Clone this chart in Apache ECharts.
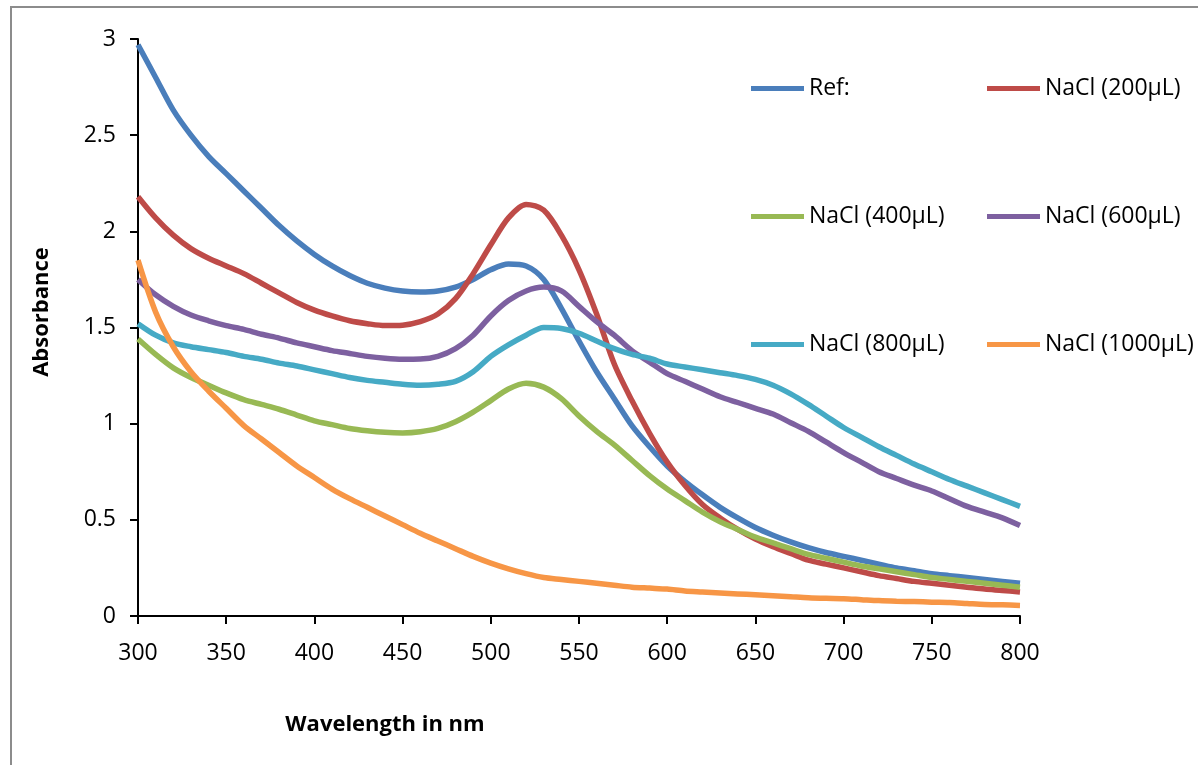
<!DOCTYPE html>
<html>
<head>
<meta charset="utf-8">
<title>Absorbance</title>
<script src="https://cdn.jsdelivr.net/npm/echarts@6/dist/echarts.min.js"></script>
<style>
    html, body { margin: 0; padding: 0; background: #fff; }
    #chart { width: 1198px; height: 765px; }
</style>
</head>
<body>
<div id="chart"></div>
<script>
// wavelengths (nm) shared by every curve, 10 nm steps
var wavelengths = [300, 310, 320, 330, 340, 350, 360, 370, 380, 390,
    400, 410, 420, 430, 440, 450, 460, 470, 480, 490,
    500, 510, 520, 530, 540, 550, 560, 570, 580, 590,
    600, 610, 620, 630, 640, 650, 660, 670, 680, 690,
    700, 710, 720, 730, 740, 750, 760, 770, 780, 790, 800];

var seriesNames = ['Ref:', 'NaCl (200µL)', 'NaCl (400µL)', 'NaCl (600µL)', 'NaCl (800µL)', 'NaCl (1000µL)'];

var refValues = [2.97, 2.80, 2.63, 2.50, 2.39, 2.30, 2.21, 2.12, 2.03, 1.95,
    1.88, 1.82, 1.77, 1.73, 1.705, 1.69, 1.685, 1.69, 1.71, 1.75,
    1.80, 1.83, 1.82, 1.75, 1.60, 1.43, 1.27, 1.13, 0.99, 0.88,
    0.78, 0.70, 0.63, 0.565, 0.51, 0.46, 0.42, 0.385, 0.355, 0.33,
    0.31, 0.29, 0.27, 0.25, 0.235, 0.22, 0.21, 0.20, 0.19, 0.18, 0.17];
var nacl200 = [2.18, 2.07, 1.98, 1.91, 1.86, 1.82, 1.78, 1.73, 1.68, 1.63,
    1.59, 1.56, 1.535, 1.52, 1.51, 1.512, 1.53, 1.57, 1.65, 1.78,
    1.93, 2.07, 2.14, 2.11, 1.98, 1.80, 1.57, 1.31, 1.12, 0.95,
    0.80, 0.68, 0.58, 0.51, 0.45, 0.40, 0.36, 0.325, 0.29, 0.27,
    0.25, 0.23, 0.21, 0.195, 0.18, 0.17, 0.16, 0.15, 0.14, 0.133, 0.125];
var nacl400 = [1.44, 1.36, 1.29, 1.24, 1.20, 1.16, 1.125, 1.10, 1.075, 1.045,
    1.015, 0.995, 0.975, 0.963, 0.955, 0.952, 0.958, 0.975, 1.01, 1.06,
    1.12, 1.18, 1.21, 1.19, 1.13, 1.04, 0.96, 0.89, 0.81, 0.73,
    0.66, 0.60, 0.54, 0.49, 0.45, 0.41, 0.38, 0.35, 0.32, 0.30,
    0.28, 0.26, 0.245, 0.23, 0.215, 0.20, 0.19, 0.18, 0.17, 0.16, 0.15];
var nacl600 = [1.75, 1.67, 1.61, 1.565, 1.535, 1.51, 1.49, 1.465, 1.445, 1.42,
    1.40, 1.38, 1.365, 1.35, 1.34, 1.335, 1.336, 1.35, 1.39, 1.46,
    1.56, 1.64, 1.69, 1.71, 1.69, 1.61, 1.53, 1.46, 1.38, 1.32,
    1.26, 1.22, 1.18, 1.14, 1.11, 1.08, 1.05, 1.005, 0.96, 0.905,
    0.85, 0.80, 0.75, 0.715, 0.68, 0.65, 0.61, 0.57, 0.54, 0.51, 0.47];
var nacl800 = [1.52, 1.46, 1.42, 1.40, 1.385, 1.37, 1.35, 1.335, 1.315, 1.30,
    1.28, 1.26, 1.24, 1.225, 1.215, 1.205, 1.20, 1.205, 1.22, 1.27,
    1.35, 1.41, 1.46, 1.50, 1.495, 1.47, 1.43, 1.39, 1.36, 1.34,
    1.31, 1.295, 1.28, 1.265, 1.25, 1.23, 1.20, 1.155, 1.10, 1.04,
    0.98, 0.93, 0.88, 0.835, 0.79, 0.75, 0.71, 0.675, 0.64, 0.605, 0.57];
var nacl1000 = [1.85, 1.58, 1.40, 1.27, 1.17, 1.08, 0.99, 0.92, 0.85, 0.78,
    0.72, 0.66, 0.61, 0.565, 0.52, 0.475, 0.43, 0.39, 0.35, 0.31,
    0.275, 0.245, 0.22, 0.20, 0.19, 0.18, 0.17, 0.16, 0.15, 0.145,
    0.14, 0.13, 0.125, 0.12, 0.115, 0.11, 0.105, 0.10, 0.095, 0.092,
    0.09, 0.085, 0.08, 0.077, 0.075, 0.072, 0.07, 0.065, 0.06, 0.058, 0.055];

var colors = ['#4a7ebb', '#be4b48', '#98b954', '#7d60a0', '#46aac5', '#f79646'];

var myChart = echarts.init(document.getElementById('chart'));

function make_serie(name, values, color) {
    // 把波长和吸光度合成 [x, y]
    var data = [];
    for (let i = 0; i < wavelengths.length; i++) {
        data.push([wavelengths[i], values[i]]);
    }
    return {
        name: name,
        type: 'line',
        data: data,
        smooth: 0.3,
        showSymbol: false,
        symbol: 'none',
        lineStyle: { width: 5.5, color: color },
        itemStyle: { color: color }
    };
}

var allValues = [refValues, nacl200, nacl400, nacl600, nacl800, nacl1000];
var series = [];
for (let i = 0; i < seriesNames.length; i++) {
    series.push(make_serie(seriesNames[i], allValues[i], colors[i]));
}

var fontName = 'Open Sans';
var legendText = { fontFamily: fontName, fontSize: 23, color: '#000', lineHeight: 23 };

var option = {
    animation: false,
    backgroundColor: '#fff',
    grid: { left: 138, right: 178, top: 39, bottom: 149 },
    legend: [
        {
            orient: 'vertical', left: 746, top: 72, itemGap: 105,
            itemWidth: 53, itemHeight: 5, icon: 'rect',
            textStyle: legendText,
            data: ['Ref:', 'NaCl (400µL)', 'NaCl (800µL)']
        },
        {
            orient: 'vertical', left: 982, top: 72, itemGap: 105,
            itemWidth: 53, itemHeight: 5, icon: 'rect',
            textStyle: legendText,
            data: ['NaCl (200µL)', 'NaCl (600µL)', 'NaCl (1000µL)']
        }
    ],
    xAxis: {
        type: 'value', min: 300, max: 800, interval: 50,
        axisLine: { lineStyle: { color: '#000', width: 2 } },
        axisTick: { inside: false, length: 8, lineStyle: { color: '#000', width: 2 } },
        axisLabel: { color: '#000', fontFamily: fontName, fontSize: 23, margin: 26 },
        splitLine: { show: false }
    },
    yAxis: {
        type: 'value', min: 0, max: 3, interval: 0.5,
        axisLine: { show: true, lineStyle: { color: '#000', width: 2 } },
        axisTick: { show: true, inside: false, length: 8, lineStyle: { color: '#000', width: 2 } },
        axisLabel: { color: '#000', fontFamily: fontName, fontSize: 23, margin: 22 },
        splitLine: { show: false }
    },
    graphic: [
        {
            type: 'rect', silent: true,
            shape: { x: 11, y: 7, width: 1400, height: 1000 },
            style: { fill: 'none', stroke: '#8c8c8c', lineWidth: 2 }
        },
        {
            type: 'text', x: 42, y: 312, rotation: Math.PI / 2,
            style: {
                text: 'Absorbance', fill: '#000', fontFamily: fontName, fontWeight: 'bold', fontSize: 22,
                align: 'center', verticalAlign: 'middle'
            }
        },
        {
            type: 'text', x: 385, y: 725,
            style: {
                text: 'Wavelength in nm', fill: '#000', fontFamily: fontName, fontWeight: 'bold', fontSize: 22,
                align: 'center', verticalAlign: 'middle'
            }
        }
    ],
    series: series
};

myChart.setOption(option);
</script>
</body>
</html>
